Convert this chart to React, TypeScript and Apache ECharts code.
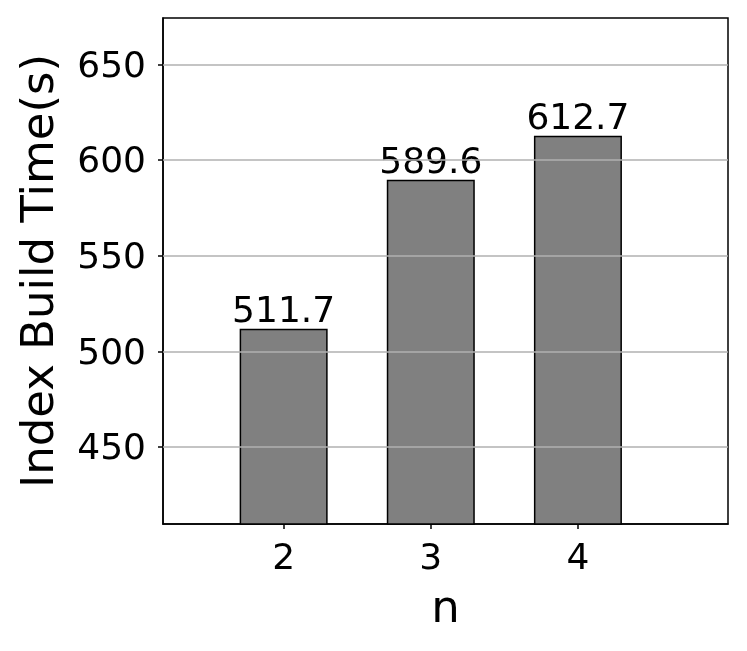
import React, { useEffect, useRef } from "react";
import * as echarts from "echarts";

const categories = [2, 3, 4];
const values = [511.7, 589.6, 612.7];
const yTicks = [450, 500, 550, 600, 650];

export default function App() {
  const ref = useRef<HTMLDivElement>(null);
  useEffect(() => {
    const chart = echarts.init(ref.current!, null, { renderer: "svg" });
    const font = "DejaVu Sans";
    chart.setOption({
      animation: false,
      textStyle: { fontFamily: font },
      grid: {
        left: 163,
        top: 18,
        right: 19,
        bottom: 127,
        show: true,
        borderColor: "#000",
        borderWidth: 1.5,
        backgroundColor: "#fff",
      },
      xAxis: {
        type: "value",
        min: 1.18,
        max: 5.02,
        name: "n",
        nameLocation: "middle",
        nameGap: 60,
        nameTextStyle: { fontSize: 45, color: "#000", fontFamily: font },
        axisLine: { show: true, lineStyle: { color: "#000", width: 1.5 } },
        axisTick: { show: true, length: 5, lineStyle: { color: "#000", width: 1.5 }, customValues: categories },
        axisLabel: { fontSize: 36, color: "#000", margin: 14, fontFamily: font, customValues: categories },
        splitLine: { show: false },
      },
      yAxis: {
        type: "value",
        min: 409.7,
        max: 674.2,
        name: "Index Build Time(s)",
        nameLocation: "middle",
        nameGap: 103,
        nameTextStyle: { fontSize: 45, color: "#000", fontFamily: font },
        axisLine: { show: true, lineStyle: { color: "#000", width: 1.5 } },
        axisTick: { show: true, length: 5, lineStyle: { color: "#000", width: 1.5 }, customValues: yTicks },
        axisLabel: { fontSize: 36, color: "#000", margin: 17, fontFamily: font, customValues: yTicks },
        splitLine: { show: false },
      },
      series: [
        {
          type: "bar",
          data: categories.map((c, i) => [c, values[i]]),
          barWidth: 88,
          itemStyle: { color: "#808080", borderColor: "#000", borderWidth: 1.5 },
          label: {
            show: true,
            position: "top",
            distance: 1,
            fontSize: 36,
            color: "#000",
            fontFamily: font,
            formatter: (p: any) => p.value[1].toFixed(1),
          },
          markLine: {
            silent: true,
            symbol: "none",
            label: { show: false },
            lineStyle: { color: "#b0b0b0", width: 1.5, type: "solid" },
            data: yTicks.map((v) => ({ yAxis: v })),
          },
          z: 2,
        },
      ],
    });
    return () => chart.dispose();
  }, []);
  return <div ref={ref} style={{ position: "fixed", left: 0, top: 0, width: 747, height: 651 }} />;
}
